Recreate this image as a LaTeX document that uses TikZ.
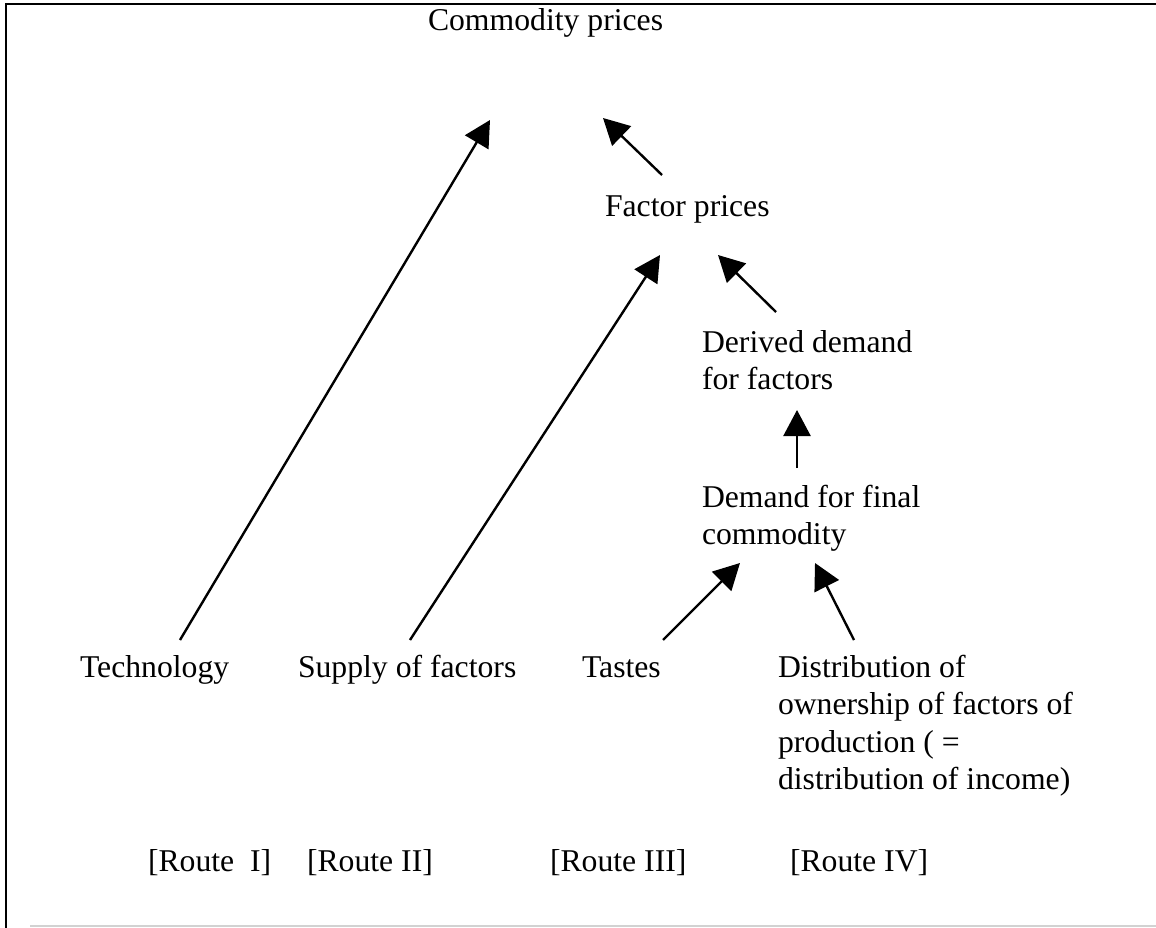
\documentclass[tikz,border=0pt]{standalone}
\usepackage{fontspec}
\setmainfont{Liberation Serif}
\usetikzlibrary{arrows.meta}
\newcommand\dgfont{\fontsize{31.7}{37.5}\selectfont}
\newcommand\lines[1]{\begin{tabular}[t]{@{}l@{}}#1\end{tabular}}
\begin{document}
\begin{tikzpicture}[x=1pt,y=-1pt,
  label/.style={anchor=base west,inner sep=0pt,outer sep=0pt,font=\dgfont},
  link/.style={line width=2.4pt,-{Triangle[length=26pt,width=27pt]}}]
\useasboundingbox (0,0) rectangle (1156,928);
% frame
\draw[line width=2.6pt] (6,928) -- (6,4) -- (1156,4);
\draw[gray!35,line width=1.5pt] (30,926) -- (1156,926);

% labels
\node[label] (cp)   at (428,31)  {Commodity prices};
\node[label] (fp)   at (605,216) {Factor prices};
\node[label] (dd)   at (702,352) {\lines{Derived demand\\for factors}};
\node[label] (dfc)  at (702,507) {\lines{Demand for final\\commodity}};
\node[label] (tech) at (80,677)  {Technology};
\node[label] (sup)  at (298,677) {Supply of factors};
\node[label] (tas)  at (582,677) {Tastes};
\node[label] (dist) at (778,677) {\lines{Distribution of\\ownership of factors of\\production ( =\\distribution of income)}};

\node[label] (r1) at (148,871) {[Route\ \ I]};
\node[label] (r2) at (307,871) {[Route II]};
\node[label] (r3) at (550,871) {[Route III]};
\node[label] (r4) at (790,871) {[Route IV]};

% connector ends
\coordinate (tech-out) at (180,640);
\coordinate (cp-in1)   at (490,120);
\coordinate (sup-out)  at (410,640);
\coordinate (fp-in1)   at (660,255);
\coordinate (fp-out)   at (662,175);
\coordinate (cp-in2)   at (603,118);
\coordinate (dd-out)   at (776,312);
\coordinate (fp-in2)   at (718,255);
\coordinate (dfc-out)  at (797,468);
\coordinate (dd-in)    at (797,410);
\coordinate (tas-out)  at (663,640);
\coordinate (dfc-in1)  at (740,563);
\coordinate (dist-out) at (854,640);
\coordinate (dfc-in2)  at (815,563);

% connectors
\draw[link] (tech-out) -- (cp-in1);
\draw[link] (sup-out)  -- (fp-in1);
\draw[link] (fp-out)   -- (cp-in2);
\draw[link] (dd-out)   -- (fp-in2);
\draw[link] (dfc-out)  -- (dd-in);
\draw[link] (tas-out)  -- (dfc-in1);
\draw[link] (dist-out) -- (dfc-in2);
\end{tikzpicture}
\end{document}
